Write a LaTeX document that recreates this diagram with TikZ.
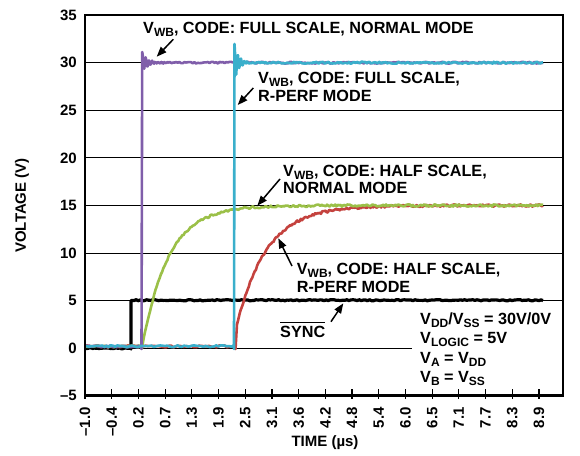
\documentclass[tikz,border=0pt]{standalone}
\usepackage{fontspec}
\setmainfont{Liberation Sans}
\usetikzlibrary{arrows.meta}
\definecolor{cpurple}{RGB}{128,94,170}
\definecolor{ccyan}{RGB}{58,175,203}
\definecolor{cgreen}{RGB}{155,192,72}
\definecolor{cred}{RGB}{196,66,62}
\newcommand\sbs[1]{\raisebox{-3pt}{\fontsize{12}{12}\selectfont #1}}
\newcommand\lines[2]{{\fontsize{16.2}{#1}\selectfont\begin{tabular}[t]{@{}l@{}}#2\end{tabular}}}
\begin{document}
\begin{tikzpicture}[x=1pt,y=-1pt,
  every node/.style={font=\fontsize{15}{17}\selectfont\bfseries, inner sep=0pt},
  note/.style={font=\fontsize{16.2}{18}\selectfont\bfseries, anchor=base west},
  frame/.style={line width=2.8pt},
  gridl/.style={line width=0.9pt},
  tickl/.style={line width=1.2pt},
  trace/.style={line width=2.6pt, line join=round},
  arr/.style={line width=1.5pt, -{Triangle[length=10pt,width=7.5pt]}}]
\pgfmathsetseed{7}
\useasboundingbox (0,0) rectangle (580,455);
% grid lines
\foreach \v in {30,25,20,15,10,5} \draw[gridl] (85,{348.3-9.52*\v}) -- (563,{348.3-9.52*\v});
\draw[gridl] (85,348.3) -- (412,348.3);
% y labels
\foreach \v/\t in {35/35,30/30,25/25,20/20,15/15,10/10,5/5,0/0,-5/–5}
  \node[anchor=east] (yl\v) at (77,{348.3-9.52*\v}) {\t};
% ticks and x labels
\foreach \t [count=\i from 0] in {–1.0,–0.4,0.2,0.7,1.3,1.9,2.5,3.1,3.6,4.2,4.8,5.4,6.0,6.5,7.1,7.7,8.3,8.9} {
  \draw[tickl] ({85+26.7*\i},389) -- ({85+26.7*\i},399);
  \node[rotate=90, anchor=east] (xl\i) at ({85+26.7*\i},407) {\t};
}
\node (ylab) [rotate=90] at (22,205.5) {VOLTAGE (V)};
\node (xlab) at (325,443) {TIME (µs)};
% traces
\draw[trace, black, line width=3.2pt] plot[domain=85:130.5, samples=30] (\x,{348.3-9.52*(0.05*rand)}) -- (131,349) -- (131,300.7)
  -- plot[domain=132:543, samples=200] (\x,{348.3-9.52*(5.05+0.06*rand)});
\draw[trace, cred] plot[domain=85:234.5, samples=60] (\x,{348.3-9.52*(0.2+0.12*rand)}) -- (235.5,349)
  -- plot[domain=237:543, samples=260] (\x,{348.3-9.52*(15-12.5*exp(-(\x-237)/30)+0.12*rand)});
\draw[trace, cgreen] plot[domain=85:141, samples=30] (\x,{348.3-9.52*(0.2+0.1*rand)})
  -- plot[domain=142:543, samples=300] (\x,{348.3-9.52*(15*(1-exp(-(\x-142)/26))+0.12*rand)});
\draw[trace, cpurple] plot[domain=85:141, samples=40] (\x,{348.3-9.52*(0.2+0.1*rand)}) -- (141.5,349)
  -- (142.2,52) -- plot[domain=143:175, samples=50] (\x,{348.3-9.52*(30+1.1*exp(-(\x-142.5)/5)*cos(360*(\x-142.5)/3.2)+0.08*rand)})
  -- plot[domain=176:543, samples=220] (\x,{348.3-9.52*(30+0.09*rand)});
\draw[trace, ccyan] plot[domain=85:233.5, samples=70] (\x,{348.3-9.52*(0.22+0.1*rand)}) -- (234,349)
  -- (234.5,44) -- plot[domain=235:270, samples=60] (\x,{348.3-9.52*(30+2*exp(-(\x-234.5)/4)*cos(360*(\x-234.5)/3.2)+0.08*rand)})
  -- plot[domain=271:543, samples=200] (\x,{348.3-9.52*(30+0.1*rand)});
% frame
\draw[frame] (85,15) rectangle (563,395.5);
% labels
\node[note] (lab1) at (143,33.3) {V\sbs{WB}, CODE: FULL SCALE, NORMAL MODE};
\node[note] (lab2) at (258,83.3) {\lines{18.4}{V\sbs{WB}, CODE: FULL SCALE,\\R-PERF MODE}};
\node[note] (lab3) at (283,176.3) {\lines{17.6}{V\sbs{WB}, CODE: HALF SCALE,\\NORMAL MODE}};
\node[note] (lab4) at (296.7,274.6) {\lines{17.6}{V\sbs{WB}, CODE: HALF SCALE,\\R-PERF MODE}};
\node[note] (sync) at (280,337) {SYNC};
\draw[line width=1.1pt] ([yshift=3pt]sync.north west) -- ([yshift=3pt]sync.north east);
\node[note] (legend) at (420,324.3) {\lines{19.5}{V\sbs{DD}/V\sbs{SS} = 30V/0V\\V\sbs{LOGIC} = 5V\\V\sbs{A} = V\sbs{DD}\\V\sbs{B} = V\sbs{SS}}};
% arrows
\coordinate (t1) at (173.3,39.3); \coordinate (h1) at (156.7,56.7);
\coordinate (t2) at (253.3,88);   \coordinate (h2) at (237.7,105);
\coordinate (t3) at (280,179);    \coordinate (h3) at (257.3,205.7);
\coordinate (t4) at (292,266);    \coordinate (h4) at (278.3,238.3);
\coordinate (t5) at (331,321.7);  \coordinate (h5) at (343.3,303.3);
\foreach \k in {1,...,5} \draw[arr] (t\k) -- (h\k);
\end{tikzpicture}
\end{document}
